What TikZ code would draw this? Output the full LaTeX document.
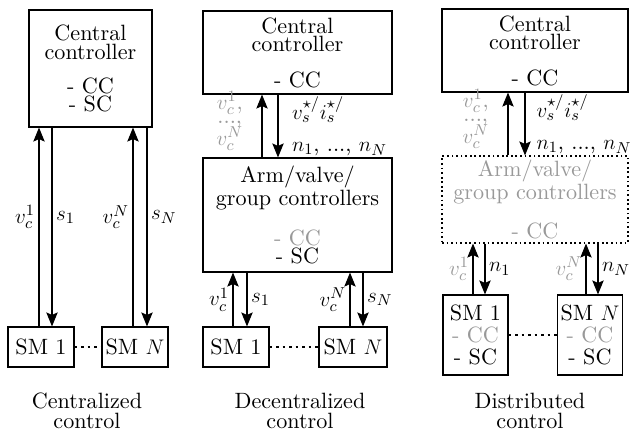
\documentclass[tikz,border=0pt]{standalone}
\usepackage{amsmath}
\usetikzlibrary{arrows.meta,positioning}
\definecolor{ltgray}{gray}{0.6}
\DeclareFontFamily{TU}{lmrten}{}
\DeclareFontShape{TU}{lmrten}{m}{n}{<-> \UnicodeFontFile{lmroman10-regular}{\UnicodeFontTeXLigatures}}{}
\newcommand{\figfont}{\fontfamily{lmrten}\fontsize{12.6}{10.4}\selectfont}
\tikzset{
    %Define standard arrow tip
    >={Stealth[length=8pt,width=6.5pt,inset=1.5pt]},
    %Define style for boxes
    ctrl/.style={
           rectangle,
           draw=black, line width=0.65pt,
           inner sep=0pt,
           align=center,
           font=\figfont},
    ctrlgray/.style={
           ctrl,
           dash pattern=on 1pt off 1.6pt,
           text=ltgray},
    sm/.style={
           ctrl,
           minimum width=1.32cm,
           minimum height=0.8cm},
    smtall/.style={
           ctrl,
           minimum width=1.3cm,
           minimum height=1.6cm},
    % Define arrow and label style
    sig/.style={
           ->,
           line width=0.65pt},
    lbl/.style={
           font=\figfont,
           inner sep=2pt},
    lblgray/.style={
           lbl,
           text=ltgray},
    stack/.style={
           lblgray,
           align=center},
    smdots/.style={
           line width=0.65pt,
           dash pattern=on 1.5pt off 2.2pt},
    capt/.style={
           align=center,
           font=\figfont}
}

\begin{document}
\begin{tikzpicture}[x=0.02cm,y=-0.02cm]
\useasboundingbox (0,0) rectangle (630,434);
% centralized control
\node[ctrl, minimum width=2.46cm, minimum height=2.34cm] (cc1) at (90.5,68.5)
   {Central\\controller\\[9pt]- CC\\- SC};
\node[sm] (sma1) at (41,347) {SM 1};
\node[sm] (smn1) at (135,347) {SM $N$};
\draw[smdots] (sma1) -- (smn1);
\coordinate (up1a) at ([xshift=-0.04cm]sma1.north);
\coordinate (dn1a) at ([xshift=0.22cm]sma1.north);
\coordinate (up1n) at ([xshift=-0.04cm]smn1.north);
\coordinate (dn1n) at ([xshift=0.24cm]smn1.north);
\draw[sig] (up1a) -- node[lbl,left,pos=0.55] {$v_c^1$} (up1a |- cc1.south);
\draw[sig] (dn1a |- cc1.south) -- node[lbl,right,pos=0.45] {$s_1$} (dn1a);
\draw[sig] (up1n) -- node[lbl,left,pos=0.55] {$v_c^N$} (up1n |- cc1.south);
\draw[sig] (dn1n |- cc1.south) -- node[lbl,right,pos=0.45] {$s_N$} (dn1n);
\node[capt] (cap1) at (87,411) {Centralized\\[1pt]control};

% decentralized control
\node[ctrl, minimum width=3.78cm, minimum height=1.66cm] (cc2) at (297.5,52.5)
   {Central\\controller\\[10pt]- CC};
\node[ctrl, minimum width=3.78cm, minimum height=2.28cm] (avg2) at (297.5,215)
   {Arm/valve/\\group controllers\\[10pt]\textcolor{ltgray}{- CC}\\- SC};
\node[sm] (sma2) at (236,347) {SM 1};
\node[sm, minimum width=1.36cm] (smn2) at (353,347) {SM $N$};
\draw[smdots] (sma2) -- (smn2);
\coordinate (up2) at ([xshift=-0.71cm]avg2.north);
\coordinate (dn2) at ([xshift=-0.39cm]avg2.north);
\draw[sig] (up2) -- node[stack,left=0.3cm,pos=0.58]
   {$v_c^1$,\\[-2.5pt]...,\\[-1.2pt]$v_c^N$} (up2 |- cc2.south);
\draw[sig] (dn2 |- cc2.south) -- node[lbl,right=0.2cm,align=left]
   {$v_s^{\star/}i_s^{\star/}$\\[8pt]$n_1$, ..., $n_N$} (dn2);
\coordinate (up2a) at ([xshift=-0.06cm]sma2.north);
\coordinate (dn2a) at ([xshift=0.22cm]sma2.north);
\coordinate (up2n) at ([xshift=-0.06cm]smn2.north);
\coordinate (dn2n) at ([xshift=0.2cm]smn2.north);
\draw[sig] (up2a) -- node[lbl,left] {$v_c^1$} (up2a |- avg2.south);
\draw[sig] (dn2a |- avg2.south) -- node[lbl,right] {$s_1$} (dn2a);
\draw[sig] (up2n) -- node[lbl,left] {$v_c^N$} (up2n |- avg2.south);
\draw[sig] (dn2n |- avg2.south) -- node[lbl,right] {$s_N$} (dn2n);
\node[capt] (cap2) at (300,411) {Decentralized\\[1pt]control};

% distributed control
\node[ctrl, minimum width=3.72cm, minimum height=1.66cm] (cc3) at (535,50.5)
   {Central\\controller\\[10pt]- CC};
\node[ctrlgray, minimum width=3.72cm, minimum height=1.74cm] (avg3) at (535,199.5)
   {Arm/valve/\\group controllers\\[10pt]- CC};
\node[smtall] (sma3) at (475.5,335) {SM 1\\[2pt]\textcolor{ltgray}{- CC}\\[2pt]- SC};
\node[smtall] (smn3) at (590,335) {SM $N$\\[2pt]\textcolor{ltgray}{- CC}\\[2pt]- SC};
\draw[smdots] (sma3) -- (smn3);
\coordinate (up3) at ([xshift=-0.54cm]avg3.north);
\coordinate (dn3) at ([xshift=-0.2cm]avg3.north);
\draw[sig] (up3) -- node[stack,left=0.3cm,pos=0.58]
   {$v_c^1$,\\[-2.5pt]...,\\[-1.2pt]$v_c^N$} (up3 |- cc3.south);
\draw[sig] (dn3 |- cc3.south) -- node[lbl,right=0.15cm,align=left]
   {$v_s^{\star/}i_s^{\star/}$\\[8pt]$n_1$, ..., $n_N$} (dn3);
\coordinate (up3a) at ([xshift=-0.05cm]sma3.north);
\coordinate (dn3a) at ([xshift=0.19cm]sma3.north);
\coordinate (up3n) at ([xshift=-0.08cm]smn3.north);
\coordinate (dn3n) at ([xshift=0.16cm]smn3.north);
\draw[sig] (up3a) -- node[lblgray,left] {$v_c^1$} (up3a |- avg3.south);
\draw[sig] (dn3a |- avg3.south) -- node[lbl,right] {$n_1$} (dn3a);
\draw[sig] (up3n) -- node[lblgray,left] {$v_c^N$} (up3n |- avg3.south);
\draw[sig] (dn3n |- avg3.south) -- node[lbl,right] {$n_N$} (dn3n);
\node[capt] (cap3) at (530,411) {Distributed\\[1pt]control};
\end{tikzpicture}
\end{document}
